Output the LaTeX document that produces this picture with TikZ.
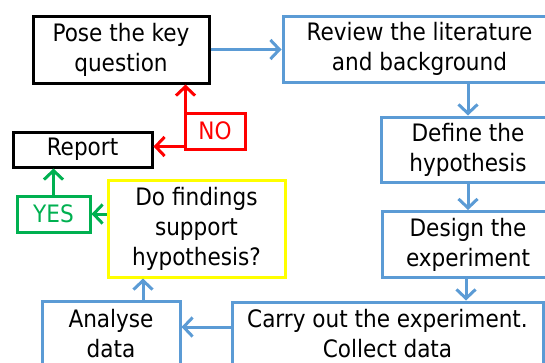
\documentclass[tikz,border=0pt]{standalone}
\usepackage{fontspec}
\setmainfont{DejaVu Sans Condensed}
\usetikzlibrary{arrows.meta}
\definecolor{flowblue}{HTML}{5B9BD5}
\definecolor{flowgreen}{HTML}{00B050}
\definecolor{flowred}{HTML}{FF0000}
\definecolor{flowyellow}{HTML}{FFFF00}
\tikzset{
  box/.style={draw, line width=3pt, inner sep=0pt, align=center,
    font=\fontsize{24}{30}\selectfont},
  bluebox/.style={box, draw=flowblue},
  blackbox/.style={box, draw=black},
  flow/.style={line width=3pt, -{Straight Barb[length=9pt,width=19pt,line width=3pt]}},
}
\begin{document}
\begin{tikzpicture}[x=1pt, y=-1pt]
  \useasboundingbox (0,0) rectangle (545,362);
  \clip (0,0) rectangle (545,362);

  % process boxes
  \node[blackbox, minimum width=176pt, minimum height=67pt] (pose) at (121,49.5) {Pose the key\\question};
  \node[bluebox, minimum width=273pt, minimum height=66pt] (review) at (419.5,49) {Review the literature\\and background};
  \node[bluebox, minimum width=174pt, minimum height=65pt] (define) at (468,149.5) {Define the\\hypothesis};
  \node[bluebox, minimum width=172pt, minimum height=66pt] (design) at (468,244.5) {Design the\\experiment};
  \node[bluebox, minimum width=311pt, minimum height=64pt] (carry) at (387.5,334) {Carry out the experiment.\\Collect data};
  \node[bluebox, minimum width=138pt, minimum height=66pt] (analyse) at (111,334) {Analyse\\data};
  \node[box, draw=flowyellow, minimum width=177pt, minimum height=97pt] (findings) at (196.5,228.5) {Do findings\\support\\hypothesis?};
  \node[blackbox, minimum width=139pt, minimum height=35pt] (report) at (82.5,149.5) {Report};

  % decision labels
  \node[box, draw=flowgreen, text=flowgreen, minimum width=73pt, minimum height=36pt] (yes) at (53.5,214) {YES};
  \node[box, draw=flowred, text=flowred, minimum width=60pt, minimum height=36pt] (no) at (215,131) {NO};

  % main flow
  \draw[flow, flowblue] (pose.east) -- (pose.east -| review.west);
  \draw[flow, flowblue] (define.north |- review.south) -- (define.north);
  \draw[flow, flowblue] (define.south) -- (design.north);
  \draw[flow, flowblue] ([xshift=-2pt]design.south) -- ([xshift=-2pt]design.south |- carry.north);
  \draw[flow, flowblue] ([yshift=7pt]carry.west) -- ([yshift=7pt]analyse.east);
  \draw[flow, flowblue] ([xshift=32pt]analyse.north) -- ([xshift=32pt]analyse.north |- findings.south);

  % outcome of the decision
  \draw[flow, flowgreen] (findings.west |- yes) -- (yes.east);
  \draw[flow, flowgreen] (yes.north) -- (yes.north |- report.south);
  \coordinate (fork) at ([shift={(2pt,4pt)}]no.south west);
  \draw[flow, flowred] (fork) -- (fork |- pose.south);
  \draw[flow, flowred] (fork) -- (fork -| report.east);
\end{tikzpicture}
\end{document}
